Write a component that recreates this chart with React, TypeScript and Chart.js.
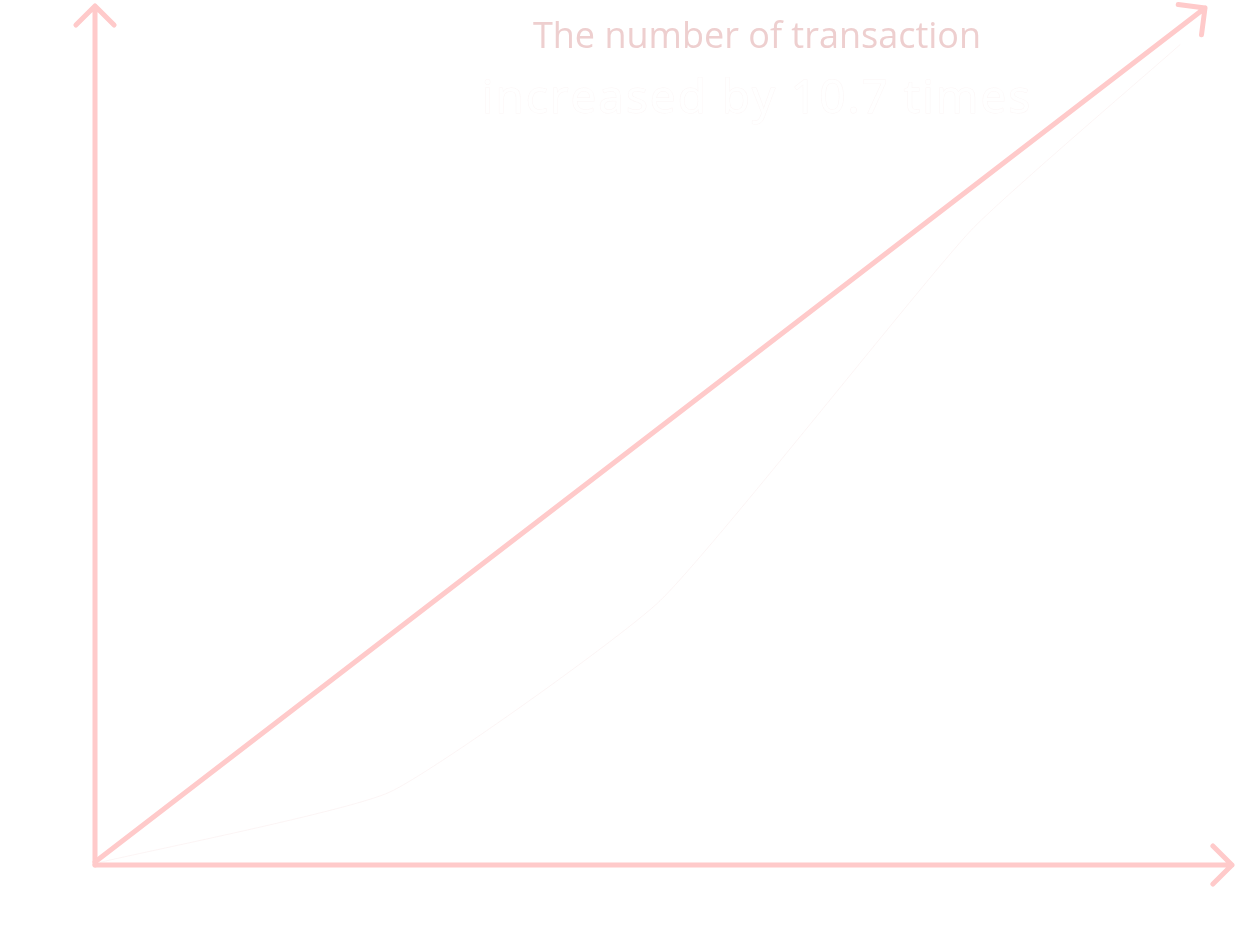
import { useEffect, useRef } from 'react';
import { Chart, registerables } from 'chart.js';

Chart.register(...registerables);

// ---- data ----
const xLabels = ['6/30', '7/5', '7/8', '7/11', '7/14'];
const xTickValues = [0, 1, 2, 3, 4];
const yTickValues = [0, 5, 10, 15, 20, 25, 30];
const seriesX = [-0.2, 0.95, 2.02, 3.25, 4.08];
const seriesY = [-0.5, 2.3, 9.9, 24.6, 32];
const titleText = 'The number of transaction';
const subtitleText = 'increased by 10.7 times';

const PINK = '#ffcaca';

function drawArrow(ctx: CanvasRenderingContext2D, x1: number, y1: number, x2: number, y2: number, head: number) {
  const ang = Math.atan2(y1 - y2, x1 - x2);
  ctx.beginPath();
  ctx.moveTo(x1, y1);
  ctx.lineTo(x2, y2);
  ctx.moveTo(x2 + head * Math.cos(ang + Math.PI / 4), y2 + head * Math.sin(ang + Math.PI / 4));
  ctx.lineTo(x2, y2);
  ctx.lineTo(x2 + head * Math.cos(ang - Math.PI / 4), y2 + head * Math.sin(ang - Math.PI / 4));
  ctx.stroke();
}

const decorPlugin = {
  id: 'decor',
  afterDraw(chart: any) {
    const ctx: CanvasRenderingContext2D = chart.ctx;
    const { left, top, right, bottom } = chart.chartArea;
    ctx.save();
    ctx.strokeStyle = PINK;
    ctx.lineWidth = 5;
    ctx.lineCap = 'round';
    ctx.lineJoin = 'round';
    drawArrow(ctx, left, bottom, left, top - 2, 27);
    drawArrow(ctx, left, bottom, right + 22, bottom, 27);
    drawArrow(ctx, left, bottom - 3, right - 5, top, 27);

    ctx.textAlign = 'center';
    ctx.textBaseline = 'middle';
    ctx.fillStyle = '#eecfcf';
    ctx.font = '36px "Open Sans"';
    ctx.fillText(titleText, 757, 38);

    ctx.font = '500 46px "Open Sans"';
    (ctx as any).letterSpacing = '2px';
    ctx.fillStyle = '#ffffff';
    ctx.strokeStyle = 'rgba(245,225,225,0.3)';
    ctx.lineWidth = 1;
    ctx.strokeText(subtitleText, 757, 100);
    ctx.fillText(subtitleText, 757, 100);
    ctx.restore();
  },
};

export default function App() {
  const ref = useRef<HTMLCanvasElement>(null);
  useEffect(() => {
    document.body.style.margin = '0';
    const chart = new Chart(ref.current as HTMLCanvasElement, {
      type: 'line',
      data: {
        datasets: [
          {
            data: seriesX.map((x, i) => ({ x, y: seriesY[i] })),
            borderColor: 'rgba(245,222,222,0.3)',
            borderWidth: 1,
            pointRadius: 0,
            tension: 0.15,
            fill: false,
          },
        ],
      },
      options: {
        animation: false,
        responsive: true,
        maintainAspectRatio: false,
        layout: { padding: { top: 8, right: 25, left: 0, bottom: 0 } },
        plugins: { legend: { display: false }, tooltip: { enabled: false }, title: { display: false } },
        scales: {
          x: {
            type: 'linear',
            min: -0.218,
            max: 4.198,
            grid: { display: false, drawTicks: false },
            border: { display: false },
            afterBuildTicks: (scale: any) => {
              scale.ticks = xTickValues.map((v) => ({ value: v }));
            },
            afterFit: (scale: any) => {
              scale.height = 84;
              scale.paddingLeft = 0;
              scale.paddingRight = 0;
            },
            ticks: {
              color: '#ffffff',
              font: { family: 'Open Sans', size: 28 },
              padding: 40,
              maxRotation: 0,
              autoSkip: false,
              callback: (v: any) => xLabels[xTickValues.indexOf(Number(v))] ?? '',
            },
          },
          y: {
            type: 'linear',
            min: -0.6,
            max: 33.45,
            grid: { display: false, drawTicks: false },
            border: { display: false },
            afterBuildTicks: (scale: any) => {
              scale.ticks = yTickValues.map((v) => ({ value: v }));
            },
            afterFit: (scale: any) => {
              scale.width = 95;
              scale.paddingTop = 0;
              scale.paddingBottom = 0;
            },
            ticks: {
              color: '#ffffff',
              font: { family: 'Open Sans', size: 30 },
              padding: 56,
              crossAlign: 'center',
            },
          },
        },
      },
      plugins: [decorPlugin],
    } as any);
    return () => chart.destroy();
  }, []);
  return (
    <div style={{ width: 1235, height: 949, position: 'relative' }}>
      <canvas ref={ref} />
    </div>
  );
}
